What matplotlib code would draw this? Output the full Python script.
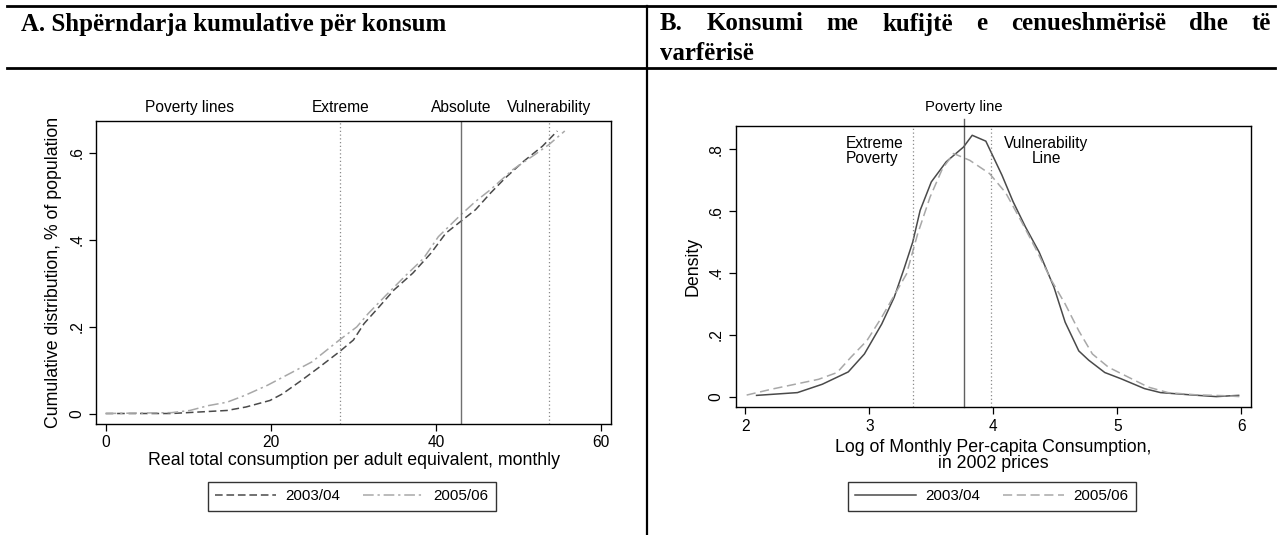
import matplotlib
matplotlib.use("Agg")
import matplotlib.pyplot as plt
from matplotlib.lines import Line2D

W, H = 1282, 535
DPI = 100

# ---------------- data ----------------
# Panel A: cumulative distribution
a_x_0304 = [0, 8.0, 14.7, 17.0, 19.9, 21.4, 23.7, 25.9, 28.3, 30.0, 31.3, 33.1, 34.9,
            37.2, 39.4, 41.2, 43.0, 44.8, 46.6, 48.4, 50.6, 52.9, 54.7]
a_y_0304 = [0, 0.0, 0.007, 0.015, 0.03, 0.045, 0.076, 0.107, 0.142, 0.169, 0.207, 0.245,
            0.284, 0.323, 0.369, 0.415, 0.442, 0.469, 0.507, 0.542, 0.580, 0.615, 0.650]
a_x_0506 = [0, 8.0, 10.2, 12.4, 14.7, 16.9, 19.6, 22.3, 25.0, 28.3, 30.4, 31.8, 34.0,
            36.2, 38.5, 40.3, 43.0, 44.8, 46.6, 49.3, 52.0, 53.7, 55.6]
a_y_0506 = [0, 0.002, 0.007, 0.018, 0.026, 0.042, 0.065, 0.092, 0.119, 0.169, 0.199,
            0.230, 0.273, 0.315, 0.357, 0.407, 0.457, 0.488, 0.515, 0.561, 0.596, 0.619, 0.650]
a_lines = [28.4, 43.0, 53.75]          # extreme, absolute, vulnerability
a_line_labels = ["Extreme", "Absolute", "Vulnerability"]
a_xticks = [0, 20, 40, 60]
a_yticks = [0, 0.2, 0.4, 0.6]
a_yticklabels = ["0", ".2", ".4", ".6"]

# Panel B: densities
b_x_0304 = [2.09, 2.42, 2.62, 2.83, 2.96, 3.10, 3.20, 3.28, 3.35, 3.41, 3.50, 3.62, 3.76,
            3.83, 3.94, 4.07, 4.16, 4.26, 4.37, 4.49, 4.58, 4.69, 4.77, 4.90, 5.03, 5.22,
            5.35, 5.60, 5.80, 5.93, 5.98]
b_y_0304 = [0.004, 0.013, 0.040, 0.080, 0.138, 0.235, 0.321, 0.414, 0.500, 0.603, 0.695,
            0.760, 0.808, 0.846, 0.827, 0.717, 0.631, 0.549, 0.468, 0.354, 0.241, 0.148,
            0.118, 0.078, 0.058, 0.026, 0.013, 0.0055, 0.0, 0.003, 0.004]
b_x_0506 = [2.01, 2.21, 2.40, 2.59, 2.74, 2.85, 2.98, 3.10, 3.20, 3.30, 3.39, 3.49, 3.59,
            3.68, 3.81, 3.97, 4.10, 4.23, 4.35, 4.47, 4.58, 4.69, 4.80, 4.93, 5.09, 5.25,
            5.41, 5.63, 5.86, 5.99]
b_y_0506 = [0.005, 0.024, 0.040, 0.056, 0.078, 0.127, 0.181, 0.257, 0.327, 0.397, 0.527,
            0.646, 0.738, 0.787, 0.765, 0.722, 0.660, 0.565, 0.473, 0.376, 0.300, 0.213,
            0.138, 0.095, 0.063, 0.031, 0.013, 0.006, 0.003, 0.0]
b_extreme, b_poverty, b_vuln = 3.35, 3.76, 3.98
b_xticks = [2, 3, 4, 5, 6]
b_yticks = [0, 0.2, 0.4, 0.6, 0.8]
b_yticklabels = ["0", ".2", ".4", ".6", ".8"]

series_labels = ["2003/04", "2005/06"]
title_a = "A. Shpërndarja kumulative për konsum"
title_b_words = ["B.", "Konsumi", "me", "kufijtë", "e", "cenueshmërisë", "dhe", "të"]
title_b_line2 = "varfërisë"

# ---------------- styling ----------------
plt.rcParams['font.family'] = ['Liberation Sans', 'DejaVu Sans']
FS = 11.2        # tick labels / annotations
AFS = 12.8       # axis titles
LFS = 10.9       # legend
DARK = "#4a4a4a"
LIGHT = "#a8a8a8"
VLINE = "#8a8a8a"

fig = plt.figure(figsize=(W / DPI, H / DPI), dpi=DPI)


def fx(px):
    return px / W


def fy(py):
    return 1 - py / H


def add_axes_px(l, t, r, b):
    return fig.add_axes([fx(l), fy(b), fx(r - l), (b - t) / H])


def style_axes(ax):
    for s in ax.spines.values():
        s.set_linewidth(1.0)
        s.set_color("black")
    ax.tick_params(direction="out", length=5, width=0.9, labelsize=FS, colors="black")
    for lab in ax.get_yticklabels():
        lab.set_rotation(90)
        lab.set_va("center")


# ---------------- table rules ----------------
rule_kw = dict(color="black", transform=fig.transFigure)
fig.add_artist(Line2D([fx(7), fx(1275)], [fy(5.7), fy(5.7)], lw=2.0, **rule_kw))
fig.add_artist(Line2D([fx(7), fx(1275)], [fy(68.3), fy(68.3)], lw=2.0, **rule_kw))
fig.add_artist(Line2D([fx(647), fx(647)], [fy(5.7), fy(535)], lw=1.6, **rule_kw))

# titles
TFS = 17.9
tkw = dict(family="Liberation Serif", fontweight="bold", fontsize=TFS, color="black",
           va="baseline", ha="left")
fig.text(fx(21), fy(30.5), title_a, **tkw)

renderer = fig.canvas.get_renderer()
x0, x1 = 660, 1271
txts = [fig.text(0, fy(30.5), w, **tkw) for w in title_b_words]
widths = [t.get_window_extent(renderer).width for t in txts]
gap = (x1 - x0 - sum(widths)) / (len(widths) - 1)
cx = x0
for t, w in zip(txts, widths):
    t.set_x(fx(cx))
    cx += w + gap
fig.text(fx(x0), fy(59.5), title_b_line2, **tkw)

# ---------------- Panel A ----------------
axA = add_axes_px(96, 121, 611, 423.5)
axA.plot(a_x_0304, a_y_0304, color=DARK, lw=1.1, ls=(0, (5, 2.5)), label=series_labels[0])
axA.plot(a_x_0506, a_y_0506, color=LIGHT, lw=1.1, ls=(0, (7, 2.5, 1.5, 2.5)),
         label=series_labels[1])
axA.axvline(a_lines[0], color=VLINE, lw=0.9, ls=(0, (1, 2)))
axA.axvline(a_lines[1], color="#707070", lw=1.0)
axA.axvline(a_lines[2], color=VLINE, lw=0.9, ls=(0, (1, 2)))
axA.set_xlim(-1.17, 61.2)
axA.set_ylim(-0.023, 0.673)
axA.set_xticks(a_xticks)
axA.set_yticks(a_yticks)
axA.set_yticklabels(a_yticklabels)
style_axes(axA)
axA.set_xlabel("Real total consumption per adult equivalent, monthly", fontsize=AFS,
               labelpad=1)
axA.set_ylabel("Cumulative distribution, % of population", fontsize=AFS, labelpad=5)
top_tr = axA.get_xaxis_transform()
axA.text(10.1, 1.043, "Poverty lines", transform=top_tr, ha="center", va="center", fontsize=FS)
for xv, lab in zip(a_lines, a_line_labels):
    axA.text(xv, 1.043, lab, transform=top_tr, ha="center", va="center", fontsize=FS)

leg_kw = dict(ncol=2, loc="center", frameon=True, fancybox=False, edgecolor="black",
              fontsize=LFS, handlelength=4.0, columnspacing=1.5, handletextpad=0.65,
              borderpad=0.5, borderaxespad=0)
legA = fig.legend(handles=axA.get_lines()[:2], labels=series_labels,
                  bbox_to_anchor=(fx(352), fy(496.5)), **leg_kw)
legA.get_frame().set_linewidth(1.0)

# ---------------- Panel B ----------------
axB = add_axes_px(735.5, 125.7, 1251.4, 407)
axB.plot(b_x_0304, b_y_0304, color=DARK, lw=1.1, label=series_labels[0])
axB.plot(b_x_0506, b_y_0506, color=LIGHT, lw=1.1, ls=(0, (6, 3)), label=series_labels[1])
axB.axvline(b_extreme, color=VLINE, lw=0.9, ls=(0, (1, 2)))
axB.axvline(b_vuln, color=VLINE, lw=0.9, ls=(0, (1, 2)))
axB.plot([b_poverty, b_poverty], [0, 1.025], transform=axB.get_xaxis_transform(),
         color="#606060", lw=1.0, clip_on=False)
axB.set_xlim(1.92, 6.083)
axB.set_ylim(-0.0336, 0.877)
axB.set_xticks(b_xticks)
axB.set_yticks(b_yticks)
axB.set_yticklabels(b_yticklabels)
style_axes(axB)
axB.set_xlabel("Log of Monthly Per-capita Consumption,\nin 2002 prices", fontsize=AFS,
               labelpad=4, linespacing=0.92)
axB.set_ylabel("Density", fontsize=AFS, labelpad=5)
axB.text(b_poverty, 1.065, "Poverty line", transform=axB.get_xaxis_transform(),
         ha="center", va="center", fontsize=FS * 0.95)
axB.text(2.81, 0.795, "Extreme\nPoverty", ha="left", va="center", fontsize=FS,
         linespacing=0.95)
axB.text(4.43, 0.795, "Vulnerability\nLine", ha="center", va="center", fontsize=FS,
         linespacing=0.95, multialignment="center")

legB = fig.legend(handles=axB.get_lines()[:2], labels=series_labels,
                  bbox_to_anchor=(fx(992), fy(496.5)), **leg_kw)
legB.get_frame().set_linewidth(1.0)

fig.savefig("out.png", dpi=DPI)
